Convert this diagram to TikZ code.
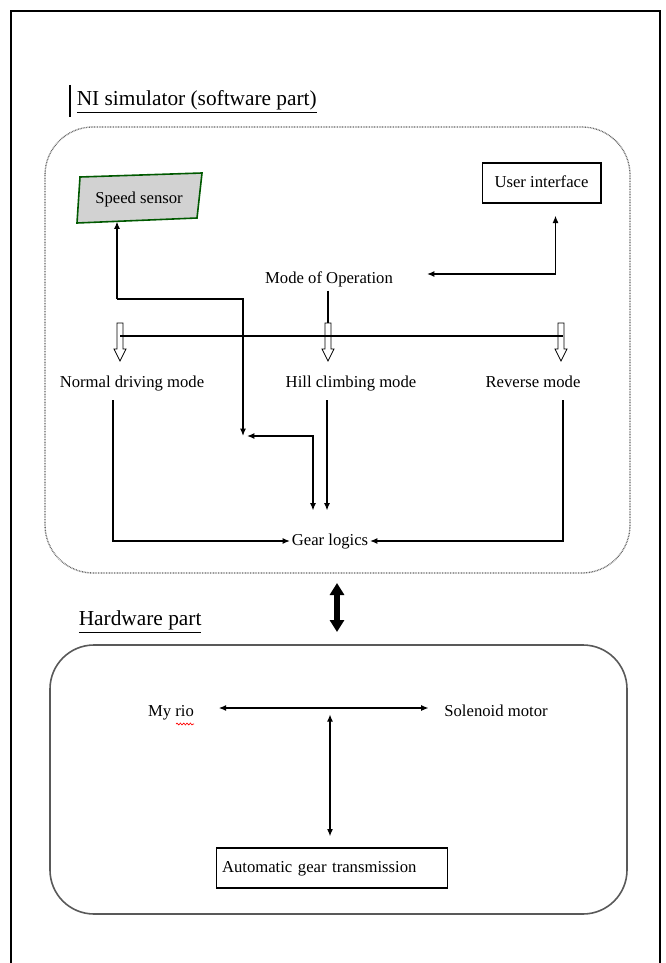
\documentclass[tikz,border=0pt]{standalone}
\usepackage{fontspec}
\setmainfont{Liberation Serif}
\usetikzlibrary{arrows.meta,calc,decorations.pathmorphing}

\tikzset{every picture/.style={line width=0.75pt}}
\tikzset{
	lbl/.style={inner sep=1pt, text height=9pt, text depth=2.5pt, font=\fontsize{12.5}{15}\selectfont},
	ttl/.style={inner sep=1pt, font=\fontsize{16}{19}\selectfont},
	boxnode/.style={draw, lbl, line width=1pt, minimum height=30pt},
	link/.style={line width=1pt, -{Latex[length=5.5pt,width=4.5pt]}},
	twolink/.style={line width=1pt, {Latex[length=5.5pt,width=4.5pt]}-{Latex[length=5.5pt,width=4.5pt]}},
}

\begin{document}
\begin{tikzpicture}[x=0.75pt,y=0.75pt,yscale=-1,xscale=1]
	\useasboundingbox (0,0) rectangle (665,963);

	%Shape: Page frame
	\draw [line width=1.5pt] (11,963) -- (11,11) -- (660,11) -- (660,963) ;
	%Rounded Rect [software]
	\draw [gray!80!black, line width=1pt, dash pattern={on 0.6pt off 0.6pt}, rounded corners=36pt] (45,127) rectangle (630,573) ;
	%Rounded Rect [hardware]
	\draw [gray!70!black, line width=1.2pt, rounded corners=33pt] (50,645) rectangle (627,914) ;

	% Text Node
	\draw (75,102) node [ttl, anchor=west] (simtitle) {\underline{NI simulator (software part)}};
	%Straight Lines [cursor]
	\draw [line width=2pt] (70,85) -- (70,117) ;

	%Shape: Speed sensor
	\draw [fill=gray!35, draw=green!35!black, line width=1.2pt] (80,177) -- (202,173) -- (197,218) -- (77,223) -- cycle ;
	% Text Node
	\draw (139,199) node [lbl, minimum width=90pt, minimum height=33pt] (sensor) {Speed sensor};
	% Text Node
	\draw (541.5,183) node [boxnode, minimum width=89pt] (ui) {User interface};
	% Text Node
	\draw (329,279) node [lbl] (mode) {Mode of Operation};

	\coordinate (uiin) at (427,274);
	\draw [twolink] (uiin) -| ($(ui.south)+(14,12)$) ;

	%Straight Lines [stem]
	\draw [line width=1.5pt] ($(mode.south)+(-1,2)$) -- ++(0,32) ;
	%Straight Lines
	\draw [line width=1pt] (120,336) -- (563,336) ;
	%Shape: hollow arrows
	\foreach \hx in {120,328,561}
		\draw [line width=0.6pt] (\hx-3,323) -- (\hx+3,323) -- (\hx+3,349) -- (\hx+6,349) -- (\hx,361) -- (\hx-6,349) -- (\hx-3,349) -- cycle ;

	% Text Node
	\draw (132,383) node [lbl] (normal) {Normal driving mode};
	% Text Node
	\draw (351,383) node [lbl] (hill) {Hill climbing mode};
	% Text Node
	\draw (533,383) node [lbl] (rev) {Reverse mode};
	% Text Node
	\draw (330,541) node [lbl] (gear) {Gear logics};

	\coordinate (nd) at (113,400);
	\coordinate (hc) at (327,400);
	\coordinate (rv) at (563,400);
	\coordinate (sp) at (117,299);
	\draw [link] (nd) |- (gear.west) ;
	\draw [link] (rv) |- (gear.east) ;
	\draw [link] (hc) -- ($(gear.north)+(-3,-21)$) ;
	\draw [link] (sp) -- (sp |- sensor.south) ;
	\draw [link] (sp) -| (243,436) ;
	\draw [twolink] (247,436) -| ($(gear.north)+(-17,-21)$) ;

	%Straight Lines [thick double arrow]
	\draw [line width=4.5pt, {Triangle[length=9pt,width=10.5pt]}-{Triangle[length=9pt,width=10.5pt]}] (337,583) -- (337,632) ;

	% Text Node
	\draw (77,622) node [ttl, anchor=west] (hwtitle) {\underline{Hardware part}};
	% Text Node
	\draw (171,712) node [lbl] (myrio) {My rio};
	\draw [red, line width=0.5pt, decorate, decoration={snake, amplitude=0.7pt, segment length=2.5pt}] (176,724) -- (194,724) ;
	% Text Node
	\draw (496,712) node [lbl] (sol) {Solenoid motor};
	% Text Node
	\draw (332,868) node [boxnode, text width=165pt, align=left, inner xsep=4pt] (agt) {Automatic gear transmission};

	\draw [twolink] ($(myrio.east)+(23,-4)$) -- ($(sol.west)+(-14,-4)$) ;
	\draw [twolink] ($(agt.north)+(-2,-133)$) -- ($(agt.north)+(-2,-11)$) ;

\end{tikzpicture}
\end{document}
